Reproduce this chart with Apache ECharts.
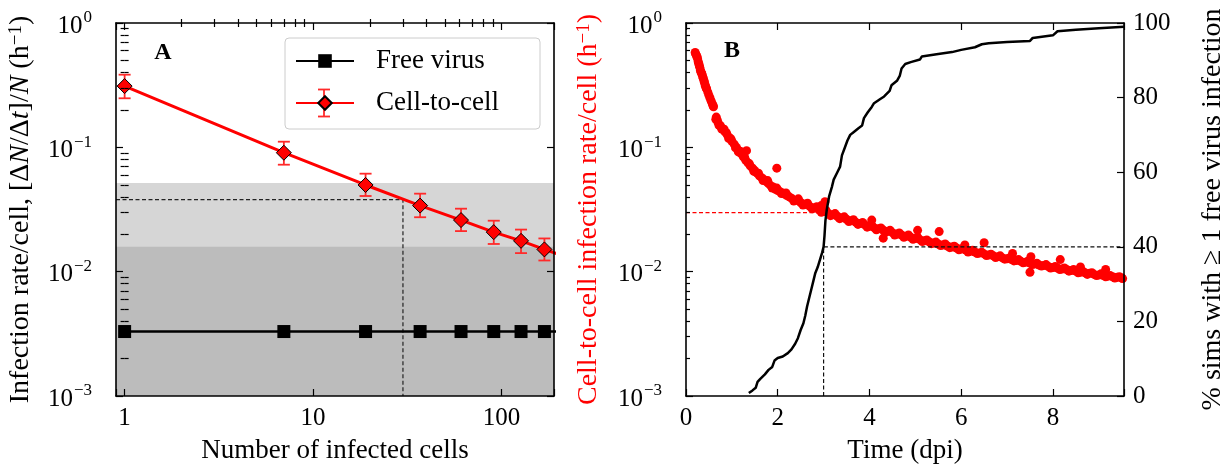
<!DOCTYPE html>
<html>
<head>
<meta charset="utf-8">
<script src="https://cdn.jsdelivr.net/npm/echarts@6/dist/echarts.min.js"></script>
<style>
  html, body { margin: 0; padding: 0; background: #fff; }
  #chart { width: 1231px; height: 471px; }
</style>
</head>
<body>
<div id="chart"></div>
<script>
const FONT = '"Liberation Serif", "DejaVu Serif", serif';

// ---- panel A: rate per cell vs number of infected cells
const cells = [1, 7, 19, 37, 61, 91, 127, 169, 217];
const freeVirus = [0.0033, 0.0033, 0.0033, 0.0033, 0.0033, 0.0033, 0.0033, 0.0033, 0.0033];
const cellToCell = [0.311, 0.0905, 0.0498, 0.034, 0.026, 0.0208, 0.0177, 0.0151, 0.0133];
const c2cLow = [0.248, 0.0725, 0.0406, 0.0274, 0.0212, 0.0167, 0.0141, 0.0123];
const c2cHigh = [0.384, 0.111, 0.0614, 0.0424, 0.0321, 0.0257, 0.0218, 0.0185];
const shadeLight = [0.001, 0.0516];
const shadeDark = [0.001, 0.0159];
const guideAx = [0.9, 30, 30];
const guideAy = [0.038, 0.038, 0.001];

// ---- panel B: cell-to-cell rate vs time, % sims with free virus infection
const bandPoints = [
  [0.20, 0.580], [0.25, 0.520], [0.30, 0.440], [0.35, 0.385], [0.40, 0.335], [0.45, 0.295],
  [0.50, 0.262], [0.55, 0.235], [0.60, 0.212], [0.65, 0.168], [0.70, 0.158], [0.75, 0.149],
  [0.80, 0.141], [0.85, 0.133], [0.90, 0.126], [0.95, 0.119], [1.00, 0.112], [1.05, 0.106],
  [1.10, 0.100], [1.15, 0.094], [1.20, 0.089], [1.25, 0.084], [1.30, 0.079], [1.35, 0.075],
  [1.40, 0.071], [1.45, 0.068], [1.50, 0.065], [1.55, 0.062], [1.60, 0.059], [1.65, 0.057],
  [1.70, 0.055], [1.75, 0.053], [1.80, 0.051], [1.85, 0.049], [1.90, 0.048], [1.95, 0.046],
  [2.00, 0.045], [2.05, 0.044], [2.10, 0.043], [2.15, 0.042], [2.20, 0.041], [2.25, 0.040],
  [2.30, 0.039], [2.40, 0.0375], [2.50, 0.0360], [2.60, 0.0348], [2.70, 0.0335], [2.80, 0.0325],
  [2.90, 0.0315], [3.00, 0.0305], [3.10, 0.0295], [3.20, 0.0287], [3.30, 0.0279], [3.40, 0.0271],
  [3.50, 0.0264], [3.60, 0.0257], [3.70, 0.0250], [3.80, 0.0244], [3.90, 0.0238], [4.00, 0.0232],
  [4.10, 0.0226], [4.20, 0.0221], [4.30, 0.0216], [4.40, 0.0211], [4.50, 0.0206], [4.60, 0.0201],
  [4.70, 0.0197], [4.80, 0.0193], [4.90, 0.0189], [5.00, 0.0185], [5.10, 0.0181], [5.20, 0.0177],
  [5.30, 0.0174], [5.40, 0.0170], [5.50, 0.0167], [5.60, 0.0164], [5.70, 0.0161], [5.80, 0.0158],
  [5.90, 0.0155], [6.00, 0.0152], [6.10, 0.0149], [6.20, 0.0146], [6.30, 0.0144], [6.40, 0.0141],
  [6.50, 0.0139], [6.60, 0.0136], [6.70, 0.0134], [6.80, 0.0132], [6.90, 0.0129], [7.00, 0.0127],
  [7.10, 0.0125], [7.20, 0.0123], [7.30, 0.0121], [7.40, 0.0119], [7.50, 0.0117], [7.60, 0.0115],
  [7.70, 0.0113], [7.80, 0.0112], [7.90, 0.0110], [8.00, 0.0108], [8.10, 0.0107], [8.20, 0.0105],
  [8.30, 0.0104], [8.40, 0.0102], [8.50, 0.0101], [8.60, 0.0099], [8.70, 0.0098], [8.80, 0.0097],
  [8.90, 0.0095], [9.00, 0.0094], [9.10, 0.0093], [9.20, 0.0092], [9.30, 0.0091], [9.40, 0.0090],
  [9.50, 0.0089]
];
const earlyPoints = [
  [0.21, 0.565], [0.225, 0.550], [0.24, 0.535], [0.265, 0.490], [0.275, 0.475], [0.29, 0.455],
  [0.315, 0.415], [0.325, 0.405], [0.34, 0.395], [0.365, 0.370], [0.375, 0.360], [0.39, 0.345],
  [0.415, 0.320], [0.425, 0.310], [0.44, 0.300], [0.475, 0.278], [0.525, 0.248], [0.575, 0.223],
  [0.59, 0.216], [0.66, 0.175], [0.72, 0.150], [0.83, 0.140], [0.93, 0.118]
];
const spreadPoints = [
  [0.68, 0.166], [0.78, 0.140], [0.88, 0.131], [0.98, 0.117], [1.08, 0.099], [1.18, 0.093],
  [1.28, 0.083], [1.38, 0.074], [1.48, 0.064], [1.58, 0.062], [1.68, 0.054], [1.78, 0.054],
  [1.88, 0.047], [1.98, 0.047], [2.08, 0.0425], [2.18, 0.043], [2.35, 0.0370], [2.45, 0.0385],
  [2.55, 0.0343], [2.65, 0.0355], [2.75, 0.0320], [2.85, 0.0333], [2.95, 0.0300], [3.05, 0.0312],
  [3.15, 0.0282], [3.25, 0.0293], [3.35, 0.0267], [3.45, 0.0276], [3.55, 0.0253], [3.65, 0.0262],
  [3.75, 0.0240], [3.85, 0.0249], [3.95, 0.0228], [4.05, 0.0236], [4.15, 0.0217], [4.25, 0.0225],
  [4.35, 0.0207], [4.45, 0.0215], [4.55, 0.0197], [4.65, 0.0205], [4.75, 0.0189], [4.85, 0.0197],
  [4.95, 0.0182], [5.05, 0.0189], [5.15, 0.0175], [5.25, 0.0180], [5.35, 0.0168], [5.45, 0.0173],
  [5.55, 0.0162], [5.65, 0.0167], [5.75, 0.0156], [5.85, 0.0160], [5.95, 0.0150], [6.05, 0.0155],
  [6.15, 0.0144], [6.25, 0.0149], [6.35, 0.0140], [6.45, 0.0143], [6.55, 0.0135], [6.65, 0.0138],
  [6.75, 0.0130], [6.85, 0.0134], [6.95, 0.0126], [7.05, 0.0129], [7.15, 0.0122], [7.25, 0.0125],
  [7.35, 0.0118], [7.45, 0.0121], [7.55, 0.0114], [7.65, 0.0117], [7.75, 0.0111], [7.85, 0.0114],
  [7.95, 0.0107], [8.05, 0.0110], [8.15, 0.0104], [8.25, 0.0107], [8.35, 0.0101], [8.45, 0.0104],
  [8.55, 0.0098], [8.65, 0.0101], [8.75, 0.0095], [8.85, 0.0098], [8.95, 0.0093], [9.05, 0.0096],
  [9.15, 0.0091], [9.25, 0.0093], [9.35, 0.0089], [9.45, 0.0091], [9.52, 0.0088]
];
const outlierPoints = [
  [1.14, 0.092], [1.32, 0.094], [1.98, 0.068], [2.95, 0.034], [3.03, 0.0365], [4.05, 0.026],
  [4.30, 0.0186], [5.05, 0.0215], [5.52, 0.0210], [6.08, 0.0164], [6.50, 0.0171], [7.12, 0.0140],
  [7.50, 0.0099], [7.52, 0.0132], [8.16, 0.0125], [8.60, 0.0109], [9.15, 0.0104]
];
const fracTime = [1.37, 1.45, 1.52, 1.56, 1.62, 1.72, 1.80, 1.88, 1.93, 2.00, 2.11, 2.22, 2.30, 2.38,
  2.44, 2.50, 2.56, 2.60, 2.64, 2.68, 2.73, 2.78, 2.82, 2.87, 2.92, 2.97, 3.00, 3.02, 3.04, 3.07,
  3.12, 3.18, 3.22, 3.30, 3.36, 3.40, 3.46, 3.52, 3.58, 3.66, 3.76, 3.84, 3.88, 3.96, 4.05, 4.10,
  4.22, 4.32, 4.44, 4.48, 4.60, 4.66, 4.70, 4.78, 4.90, 5.10, 5.14, 5.50, 5.80, 6.00, 6.30, 6.45,
  6.60, 7.00, 7.50, 7.56, 8.00, 8.10, 8.50, 9.00, 9.55];
const fracPct = [0.8, 1.5, 2.2, 3.8, 4.6, 5.8, 7.0, 7.8, 9.5, 10.2, 10.6, 11.5, 12.5, 14.0,
  15.5, 17.7, 19.5, 21.5, 24.0, 26.0, 28.5, 31.0, 33.0, 34.5, 36.5, 38.5, 40.0, 43.0, 47.0, 50.0,
  53.5, 56.0, 58.0, 60.0, 61.5, 64.5, 66.5, 68.5, 70.0, 70.8, 71.8, 72.5, 74.5, 76.0, 77.5, 78.5,
  79.5, 80.3, 81.8, 83.3, 84.5, 85.8, 87.8, 89.0, 89.5, 90.2, 91.0, 91.7, 92.2, 92.8, 93.5, 94.3,
  94.6, 94.9, 95.2, 96.0, 96.7, 97.8, 98.2, 98.6, 99.0];
const guideRedB = [[0, 0.0298], [3, 0.0298]];
const guideBlackB = [[3, 0], [3, 40], [9.55, 40]];

// axis ranges
const xMinA = 0.9, xMaxA = 190;
const yMin = 0.001, yMax = 1;
const tMax = 9.55;

const tickStyle = { color: '#000', width: 1.2 };
const borderStyle = { color: '#000', width: 1.6 };

function minorLogTicks(lo, hi) {
  const out = [];
  for (let e = Math.floor(Math.log10(lo)); e <= Math.ceil(Math.log10(hi)); e++) {
    for (let m = 2; m <= 9; m++) {
      const v = m * Math.pow(10, e);
      if (v > lo && v < hi) out.push(Math.log10(v));
    }
  }
  return out;
}
function isPow10(v) {
  const l = Math.log10(v);
  return Math.abs(l - Math.round(l)) < 1e-6;
}
function sciLabel(v) {
  if (!isPow10(v)) return '';
  const e = Math.round(Math.log10(v));
  return '{b|10}{s|' + (e < 0 ? '\u2212' + (-e) : String(e)) + '}';
}
const sciRich = {
  b: { fontSize: 25, fontFamily: FONT, color: '#000', padding: [6, 0, 0, 0] },
  s: { fontSize: 17, fontFamily: FONT, color: '#000', verticalAlign: 'top', padding: [2, 0, 0, 1] }
};
const nameStyle = { fontSize: 27, fontFamily: FONT, color: '#000' };
const yNameStyle = { fontSize: 28, fontFamily: FONT, color: '#000' };

function logAxis(grid, position, min, max, extra) {
  return Object.assign({
    type: 'log', logBase: 10, gridIndex: grid, position: position, min: min, max: max,
    axisLine: { show: true, onZero: false, lineStyle: borderStyle },
    axisTick: { show: true, inside: true, length: 7, lineStyle: tickStyle },
    axisLabel: { show: false },
    splitLine: { show: false },
    nameMoveOverlap: false,
    z: 10
  }, extra || {});
}
function minorAxis(grid, position, min, max) {
  return {
    type: 'value', gridIndex: grid, position: position,
    min: Math.log10(min), max: Math.log10(max),
    axisLine: { show: false },
    axisTick: { show: true, inside: true, length: 4, lineStyle: tickStyle, customValues: minorLogTicks(min, max) },
    axisLabel: { show: false },
    splitLine: { show: false },
    z: 10
  };
}
function valueAxis(grid, position, min, max, interval, extra) {
  return Object.assign({
    type: 'value', gridIndex: grid, position: position, min: min, max: max, interval: interval,
    axisLine: { show: true, onZero: false, lineStyle: borderStyle },
    axisTick: { show: true, inside: true, length: 7, lineStyle: tickStyle },
    axisLabel: { show: false },
    splitLine: { show: false },
    nameMoveOverlap: false,
    z: 10
  }, extra || {});
}

const chart = echarts.init(document.getElementById('chart'));

const option = {
  animation: false,
  backgroundColor: '#fff',
  textStyle: { fontFamily: FONT },
  grid: [
    { left: 116, top: 23, width: 438, height: 373, outerBoundsMode: 'none', containLabel: false },
    { left: 686, top: 23, width: 438, height: 373, outerBoundsMode: 'none', containLabel: false }
  ],
  xAxis: [
    logAxis(0, 'bottom', xMinA, xMaxA, {
      axisLabel: {
        show: true, margin: 10, fontSize: 25, fontFamily: FONT, color: '#000',
        formatter: v => (isPow10(v) ? String(Math.round(v)) : '')
      },
      name: 'Number of infected cells', nameLocation: 'middle', nameGap: 41, nameTextStyle: nameStyle
    }),
    logAxis(0, 'top', xMinA, xMaxA),
    minorAxis(0, 'bottom', xMinA, xMaxA),
    minorAxis(0, 'top', xMinA, xMaxA),
    valueAxis(1, 'bottom', 0, tMax, 2, {
      axisLabel: {
        show: true, margin: 10, fontSize: 25, fontFamily: FONT, color: '#000',
        formatter: v => (Math.abs(v % 2) < 1e-9 ? String(v) : '')
      },
      name: 'Time (dpi)', nameLocation: 'middle', nameGap: 41, nameTextStyle: nameStyle
    }),
    valueAxis(1, 'top', 0, tMax, 2)
  ],
  yAxis: [
    logAxis(0, 'left', yMin, yMax, {
      axisLabel: { show: true, margin: 24, formatter: sciLabel, rich: sciRich },
      name: 'Infection rate/cell, [\u0394{i|N}/\u0394{i|t}]/{i|N} (h{s|\u22121})',
      nameLocation: 'middle', nameRotate: 90, nameGap: 81,
      nameTextStyle: Object.assign({}, yNameStyle, {
        rich: {
          i: { fontSize: 28, fontFamily: FONT, fontStyle: 'italic', color: '#000' },
          s: { fontSize: 19, fontFamily: FONT, color: '#000', verticalAlign: 'top' }
        }
      })
    }),
    logAxis(0, 'right', yMin, yMax),
    minorAxis(0, 'left', yMin, yMax),
    minorAxis(0, 'right', yMin, yMax),
    logAxis(1, 'left', yMin, yMax, {
      axisLabel: { show: true, margin: 24, formatter: sciLabel, rich: sciRich },
      name: 'Cell-to-cell infection rate/cell (h{s|\u22121})',
      nameLocation: 'middle', nameRotate: 90, nameGap: 83,
      nameTextStyle: Object.assign({}, yNameStyle, {
        color: '#ff0000',
        rich: { s: { fontSize: 19, fontFamily: FONT, color: '#ff0000', verticalAlign: 'top' } }
      })
    }),
    valueAxis(1, 'right', 0, 100, 20, {
      axisLabel: { show: true, margin: 9, fontSize: 25, fontFamily: FONT, color: '#000' },
      name: '% sims with \u2265 1 free virus infection',
      nameLocation: 'middle', nameRotate: 90, nameGap: 75, nameTextStyle: yNameStyle
    }),
    minorAxis(1, 'left', yMin, yMax)
  ],
  legend: {
    data: ['Free virus', 'Cell-to-cell'],
    orient: 'vertical', left: 295, top: 46, padding: 0, itemGap: 12,
    itemWidth: 58, itemHeight: 17, selectedMode: false,
    textStyle: { fontSize: 27, fontFamily: FONT, color: '#000', lineHeight: 30, padding: [0, 0, 0, 17] }
  },
  graphic: [
    { type: 'rect', z: 3, shape: { x: 285, y: 38, width: 255, height: 91, r: 4 },
      style: { fill: 'rgba(255,255,255,0.8)', stroke: '#cccccc', lineWidth: 1 } },
    { type: 'line', z: 3, shape: { x1: 324, y1: 89.5, x2: 324, y2: 116.5 }, style: { stroke: '#ff2a2a', lineWidth: 1.8 } },
    { type: 'line', z: 3, shape: { x1: 318, y1: 89.5, x2: 330, y2: 89.5 }, style: { stroke: '#ff2a2a', lineWidth: 1.8 } },
    { type: 'line', z: 3, shape: { x1: 318, y1: 116.5, x2: 330, y2: 116.5 }, style: { stroke: '#ff2a2a', lineWidth: 1.8 } },
    { type: 'text', z: 5, x: 163, y: 53,
      style: { text: 'A', fontSize: 24, fontWeight: 'bold', fontFamily: FONT, fill: '#000', align: 'center', verticalAlign: 'middle' } },
    { type: 'text', z: 5, x: 732, y: 51,
      style: { text: 'B', fontSize: 24, fontWeight: 'bold', fontFamily: FONT, fill: '#000', align: 'center', verticalAlign: 'middle' } }
  ],
  series: [
    {
      type: 'line', xAxisIndex: 0, yAxisIndex: 0, z: 2, silent: true,
      data: guideAx.map((x, i) => [x, guideAy[i]]),
      symbol: 'none', lineStyle: { color: '#222', width: 1.2, type: [4, 2.5] },
      markArea: {
        silent: true, z: 1,
        label: { show: false },
        data: [
          [{ yAxis: shadeLight[1], itemStyle: { color: '#d6d6d6', opacity: 1 } }, { yAxis: shadeLight[0] }],
          [{ yAxis: shadeDark[1], itemStyle: { color: '#bcbcbc', opacity: 1 } }, { yAxis: shadeDark[0] }]
        ]
      }
    },
    {
      type: 'custom', xAxisIndex: 0, yAxisIndex: 0, z: 3, silent: true,
      data: c2cLow.map((lo, i) => [cells[i], lo, c2cHigh[i]]),
      encode: { x: 0, y: [1, 2] },
      renderItem: function (params, api) {
        const top = api.coord([api.value(0), api.value(2)]);
        const bot = api.coord([api.value(0), api.value(1)]);
        const w = 6;
        const st = { stroke: '#ff2a2a', lineWidth: 1.8 };
        return {
          type: 'group',
          children: [
            { type: 'line', shape: { x1: top[0], y1: top[1], x2: bot[0], y2: bot[1] }, style: st },
            { type: 'line', shape: { x1: top[0] - w, y1: top[1], x2: top[0] + w, y2: top[1] }, style: st },
            { type: 'line', shape: { x1: bot[0] - w, y1: bot[1], x2: bot[0] + w, y2: bot[1] }, style: st }
          ]
        };
      }
    },
    {
      name: 'Free virus', type: 'line', xAxisIndex: 0, yAxisIndex: 0, z: 4,
      data: cells.map((c, i) => [c, freeVirus[i]]),
      symbol: 'rect', symbolSize: 13, showAllSymbol: true, clip: true,
      itemStyle: { color: '#000' }, lineStyle: { color: '#000', width: 2.5 }
    },
    {
      name: 'Cell-to-cell', type: 'line', xAxisIndex: 0, yAxisIndex: 0, z: 5,
      data: cells.map((c, i) => [c, cellToCell[i]]),
      symbol: 'diamond', symbolSize: 15, showAllSymbol: true, clip: true,
      itemStyle: { color: '#ff0000', borderColor: '#000', borderWidth: 1 },
      lineStyle: { color: '#ff0000', width: 3 }
    },
    {
      type: 'scatter', xAxisIndex: 4, yAxisIndex: 4, z: 2, silent: true,
      data: bandPoints.concat(earlyPoints, spreadPoints, outlierPoints),
      symbolSize: 9, itemStyle: { color: '#ff0000', opacity: 1 }
    },
    {
      type: 'line', xAxisIndex: 4, yAxisIndex: 4, z: 3, silent: true,
      data: guideRedB, symbol: 'none',
      lineStyle: { color: '#ff0000', width: 1.2, type: [4, 2.5] }
    },
    {
      type: 'line', xAxisIndex: 4, yAxisIndex: 5, z: 3, silent: true,
      data: guideBlackB, symbol: 'none',
      lineStyle: { color: '#111', width: 1.2, type: [4, 2.5] }
    },
    {
      type: 'line', xAxisIndex: 4, yAxisIndex: 5, z: 4, silent: true,
      data: fracTime.map((t, i) => [t, fracPct[i]]), symbol: 'none',
      lineStyle: { color: '#000', width: 2.5 }
    }
  ]
};

chart.setOption(option);
</script>
</body>
</html>
